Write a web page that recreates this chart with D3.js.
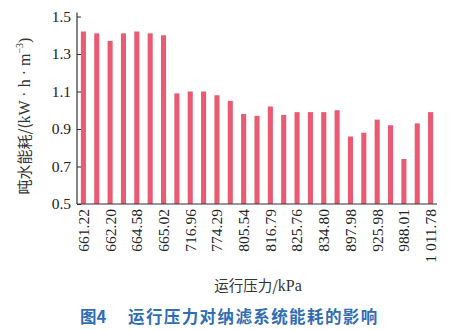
<!DOCTYPE html>
<html><head><meta charset="utf-8">
<script src="https://cdn.jsdelivr.net/npm/d3@7/dist/d3.min.js"></script>
<style>body{margin:0;background:#fff;}svg{display:block;}</style>
</head><body>
<svg id="c" width="465" height="330"></svg>
<script>
const tickLabels = ["661.22","","662.20","","664.58","","665.02","","716.96","","774.29","","805.54","","816.79","","825.76","","834.80","","897.98","","925.98","","988.01","","1 011.78"];
const values = [1.42,1.41,1.37,1.41,1.42,1.41,1.40,1.09,1.10,1.10,1.08,1.05,0.98,0.97,1.02,0.975,0.99,0.99,0.99,1.00,0.86,0.88,0.95,0.92,0.74,0.93,0.99];
const yTicks = [0.5,0.7,0.9,1.1,1.3,1.5];

const svg = d3.select("#c");
const x = d3.scaleBand().domain(d3.range(values.length)).range([77,437]).paddingInner(0.62).paddingOuter(0.29);
const y = d3.scaleLinear().domain([0.5,1.5]).range([204,16.5]);
const serif = "'Liberation Serif','Times New Roman',serif";

svg.append("g").selectAll("rect").data(values).join("rect")
  .attr("x",(d,i)=>x(i)).attr("width",x.bandwidth())
  .attr("y",d=>y(d)).attr("height",d=>y(0.5)-y(d))
  .attr("fill","#ea5a72");

const ya = svg.append("g").attr("transform","translate(77,0)")
  .call(d3.axisLeft(y).tickValues(yTicks).tickSize(-4).tickPadding(6).tickFormat(d3.format(".1f")));
ya.select(".domain").attr("d","M0,"+(y(1.5)-4)+"V"+y(0.5)).attr("stroke","#333").attr("stroke-width",1.2);
ya.selectAll(".tick line").attr("stroke","#333");
ya.selectAll("text").attr("font-family",serif).attr("font-size",15.5).attr("fill","#222");

const xa = svg.append("g").attr("transform","translate(0,204)")
  .call(d3.axisBottom(x).tickSize(0).tickFormat(i=>tickLabels[i]));
xa.select(".domain").attr("d","M77,0H437").attr("stroke","#333").attr("stroke-width",1.2);
xa.selectAll("text").attr("font-family",serif).attr("font-size",15.5).attr("fill","#222")
  .attr("transform","rotate(-90)").attr("text-anchor","end").attr("dx","-5").attr("dy","0.35em").attr("y",0).attr("x",0);

svg.append("text").attr("transform","translate(30,116) rotate(-90)").attr("text-anchor","middle")
  .attr("font-size",15).attr("fill","#333").attr("font-family","'Noto Sans CJK SC',serif")
  .attr("xml:space","preserve")
  .html("吨水能耗/(<tspan font-family=\"Liberation Serif\" font-size=\"16\">kW · h · m</tspan><tspan font-family=\"Liberation Serif\" font-size=\"10\" dy=\"-7\">−3</tspan><tspan dy=\"7\" font-family=\"Liberation Serif\" font-size=\"16\">)</tspan>");

svg.append("text").attr("x",258).attr("y",291).attr("text-anchor","middle")
  .attr("font-size",14.5).attr("fill","#333").attr("font-family","'Noto Sans CJK SC',serif")
  .html("运行压力/<tspan font-family=\"Liberation Serif\" font-size=\"16\">kPa</tspan>");

const cap = svg.append("text").attr("y",323)
  .attr("font-size",16.5).attr("font-weight","bold").attr("fill","#2f6db5").attr("font-family","'Noto Sans CJK SC',sans-serif");
cap.append("tspan").attr("x",80).text("图4");
cap.append("tspan").attr("x",128).attr("letter-spacing",1.4).text("运行压力对纳滤系统能耗的影响");
</script>
</body></html>
